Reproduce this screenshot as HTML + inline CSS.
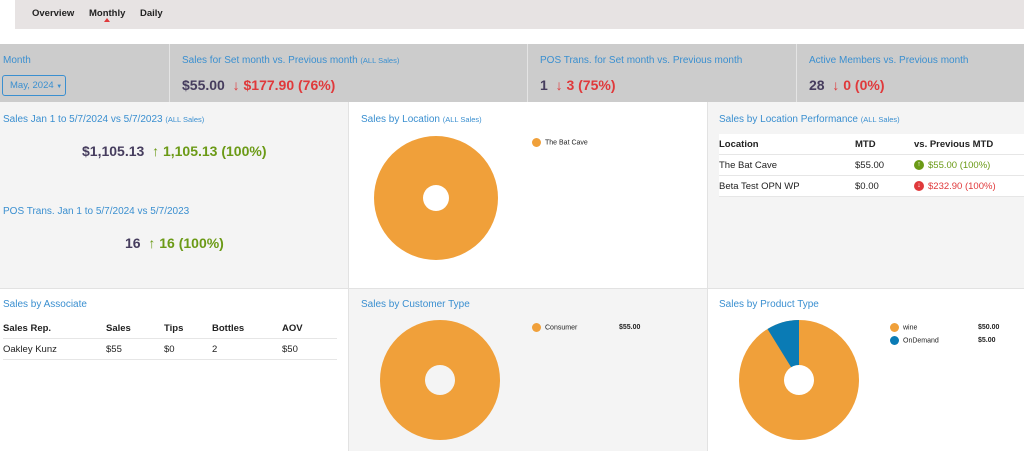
<!DOCTYPE html>
<html><head><style>
body{margin:0;width:1024px;height:451px;position:relative;overflow:hidden;font-family:"Liberation Sans",sans-serif;background:#fff}
.a{position:absolute}
.t{color:#3a8fd0;font-size:10px;white-space:nowrap}
.t small{font-size:7.5px}
.v{font-weight:bold;font-size:14px;white-space:nowrap}
.d{color:#463d5e}.r{color:#e0393b}.g{color:#6b9a16}
table{border-collapse:collapse;font-size:9.5px;color:#222}
td,th{text-align:left;padding:0;height:20px;border-bottom:1px solid #e6e6e6}
th{font-weight:bold}
.lg{font-size:7px;color:#222;white-space:nowrap}
.dot{display:inline-block;width:9px;height:9px;border-radius:50%;vertical-align:middle;margin-right:4px}
</style></head><body>
<div class="a" style="left:15px;top:0;width:1009px;height:29px;background:#e7e3e3"></div>
<div class="a" style="left:32px;top:8px;font-size:9.5px;font-weight:bold;color:#222">Overview</div>
<div class="a" style="left:89px;top:8px;font-size:9.5px;font-weight:bold;color:#222">Monthly</div>
<div class="a" style="left:104px;top:18px;width:0;height:0;border-left:3px solid transparent;border-right:3px solid transparent;border-bottom:4px solid #e0393b"></div>
<div class="a" style="left:140px;top:8px;font-size:9.5px;font-weight:bold;color:#222">Daily</div>

<div class="a" style="left:0;top:44px;width:1024px;height:58px;background:#cccccc"></div>
<div class="a" style="left:169px;top:44px;width:1px;height:58px;background:#e4e4e4"></div>
<div class="a" style="left:527px;top:44px;width:1px;height:58px;background:#e4e4e4"></div>
<div class="a" style="left:796px;top:44px;width:1px;height:58px;background:#e4e4e4"></div>
<div class="a t" style="left:3px;top:55px">Month</div>
<div class="a" style="left:2px;top:75px;width:64px;height:21px;border:1px solid #3a8fd0;border-radius:3px;box-sizing:border-box;color:#3a8fd0;font-size:9.5px;line-height:19px;padding-left:7px">May, 2024 <span style="font-size:6px">▼</span></div>
<div class="a t" style="left:182px;top:55px">Sales for Set month vs. Previous month <small>(ALL Sales)</small></div>
<div class="a v" style="left:182px;top:77px"><span class="d">$55.00</span> &nbsp;<span class="r">↓ $177.90 (76%)</span></div>
<div class="a t" style="left:540px;top:55px">POS Trans. for Set month vs. Previous month</div>
<div class="a v" style="left:540px;top:77px"><span class="d">1</span> &nbsp;<span class="r">↓ 3 (75%)</span></div>
<div class="a t" style="left:809px;top:55px">Active Members vs. Previous month</div>
<div class="a v" style="left:809px;top:77px"><span class="d">28</span> &nbsp;<span class="r">↓ 0 (0%)</span></div>

<div class="a" style="left:0;top:102px;width:348px;height:186px;background:#f4f4f4"></div>
<div class="a" style="left:707px;top:102px;width:317px;height:186px;background:#f4f4f4"></div>
<div class="a" style="left:348px;top:288px;width:359px;height:163px;background:#f4f4f4"></div>
<div class="a" style="left:0;top:288px;width:1024px;height:1px;background:#e2e2e2"></div>
<div class="a" style="left:348px;top:102px;width:1px;height:349px;background:#e2e2e2"></div>
<div class="a" style="left:707px;top:102px;width:1px;height:349px;background:#e2e2e2"></div>

<div class="a t" style="left:3px;top:114px">Sales Jan 1 to 5/7/2024 vs 5/7/2023 <small>(ALL Sales)</small></div>
<div class="a v" style="left:82px;top:143px"><span class="d">$1,105.13</span> &nbsp;<span class="g">↑ 1,105.13 (100%)</span></div>
<div class="a t" style="left:3px;top:206px">POS Trans. Jan 1 to 5/7/2024 vs 5/7/2023</div>
<div class="a v" style="left:125px;top:235px"><span class="d">16</span> &nbsp;<span class="g">↑ 16 (100%)</span></div>

<div class="a t" style="left:361px;top:114px">Sales by Location <small>(ALL Sales)</small></div>
<svg class="a" style="left:348px;top:102px" width="359" height="186"><circle cx="88" cy="96" r="62" fill="#f0a03a"/><circle cx="88" cy="96" r="13" fill="#fff"/></svg>
<div class="a lg" style="left:532px;top:138px"><span class="dot" style="background:#f0a03a"></span>The Bat Cave</div>

<div class="a t" style="left:719px;top:114px">Sales by Location Performance <small>(ALL Sales)</small></div>
<table class="a" style="left:719px;top:134px;width:305px;background:#fff">
<tr><th style="width:136px">Location</th><th style="width:59px">MTD</th><th>vs. Previous MTD</th></tr>
<tr><td>The Bat Cave</td><td>$55.00</td><td style="color:#6b9a16"><span class="dot" style="background:#6b9a16;width:10px;height:10px;color:#fff;font-size:7px;text-align:center;line-height:10px">↑</span>$55.00 (100%)</td></tr>
<tr><td>Beta Test OPN WP</td><td>$0.00</td><td style="color:#e0393b"><span class="dot" style="background:#e0393b;width:10px;height:10px;color:#fff;font-size:7px;text-align:center;line-height:10px">↓</span>$232.90 (100%)</td></tr>
</table>

<div class="a t" style="left:3px;top:299px">Sales by Associate</div>
<table class="a" style="left:3px;top:318px;width:334px">
<tr><th style="width:103px">Sales Rep.</th><th style="width:58px">Sales</th><th style="width:48px">Tips</th><th style="width:70px">Bottles</th><th>AOV</th></tr>
<tr><td>Oakley Kunz</td><td>$55</td><td>$0</td><td>2</td><td>$50</td></tr>
</table>

<div class="a t" style="left:361px;top:299px">Sales by Customer Type</div>
<svg class="a" style="left:348px;top:288px" width="359" height="163"><circle cx="92" cy="92" r="60" fill="#f0a03a"/><circle cx="92" cy="92" r="15" fill="#f4f4f4"/></svg>
<div class="a lg" style="left:532px;top:323px"><span class="dot" style="background:#f0a03a"></span>Consumer</div>
<div class="a lg" style="left:619px;top:324px;font-weight:bold">$55.00</div>

<div class="a t" style="left:719px;top:299px">Sales by Product Type</div>
<svg class="a" style="left:707px;top:288px" width="317" height="163"><circle cx="92" cy="92" r="60" fill="#f0a03a"/><path d="M92 92 L92 32 A60 60 0 0 0 60.5 41 Z" fill="#0a7bb5"/><circle cx="92" cy="92" r="15" fill="#fff"/></svg>
<div class="a lg" style="left:890px;top:323px"><span class="dot" style="background:#f0a03a"></span>wine</div>
<div class="a lg" style="left:978px;top:324px;font-weight:bold">$50.00</div>
<div class="a lg" style="left:890px;top:336px"><span class="dot" style="background:#0a7bb5"></span>OnDemand</div>
<div class="a lg" style="left:978px;top:337px;font-weight:bold">$5.00</div>
</body></html>
